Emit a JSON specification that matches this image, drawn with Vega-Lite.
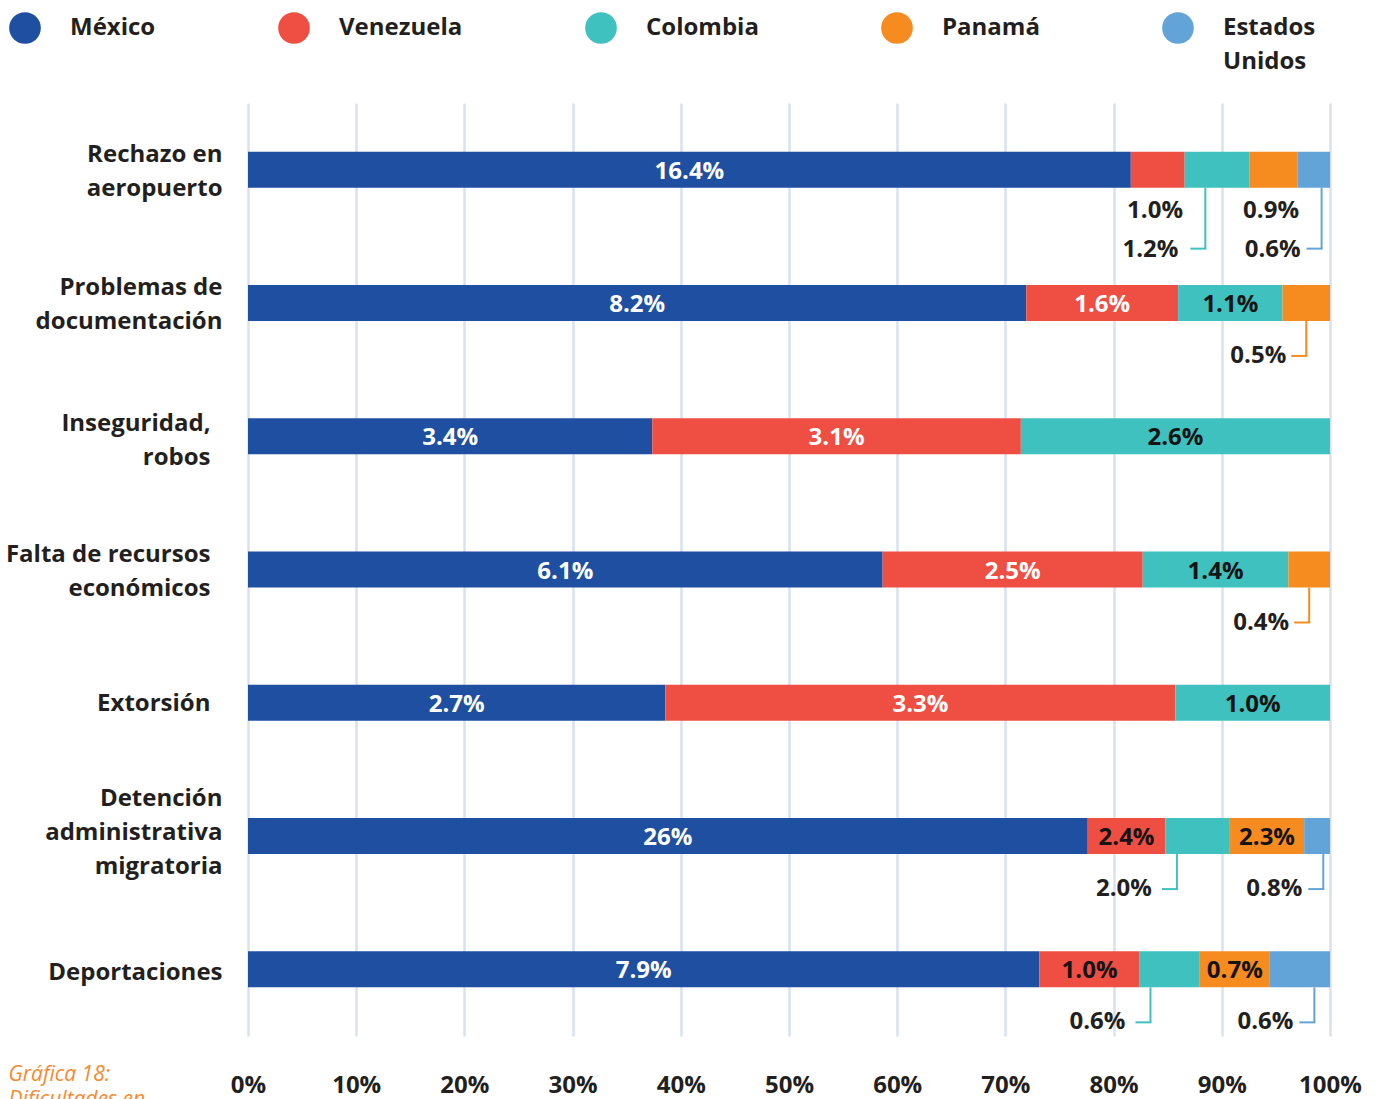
{
  "$schema": "https://vega.github.io/schema/vega-lite/v6.json",
  "width": 1082,
  "height": 933,
  "autosize": {"type": "none"},
  "padding": {"left": 248, "top": 103, "right": 54, "bottom": 63},
  "background": "white",
  "config": {"view": {"stroke": null}, "font": "Open Sans", "style": {"guide-label": {"lineHeight": 34}}},
  "title": {
    "text": ["Gráfica 18:", "Dificultades en"],
    "orient": "bottom",
    "anchor": "start",
    "frame": "bounds",
    "font": "Open Sans",
    "fontStyle": "italic",
    "fontWeight": "normal",
    "fontSize": 21,
    "lineHeight": 25,
    "color": "#f58a32",
    "offset": -33,
    "dx": 3
  },
  "data": {
    "values": [
      {"causa": "Rechazo en|aeropuerto", "pais": "México", "o": 1, "v": 16.4, "t": "16.4%"},
      {"causa": "Rechazo en|aeropuerto", "pais": "Venezuela", "o": 2, "v": 1.0, "t": "1.0%"},
      {"causa": "Rechazo en|aeropuerto", "pais": "Colombia", "o": 3, "v": 1.2, "t": "1.2%"},
      {"causa": "Rechazo en|aeropuerto", "pais": "Panamá", "o": 4, "v": 0.9, "t": "0.9%"},
      {"causa": "Rechazo en|aeropuerto", "pais": "Estados Unidos", "o": 5, "v": 0.6, "t": "0.6%"},
      {"causa": "Problemas de|documentación", "pais": "México", "o": 1, "v": 8.2, "t": "8.2%"},
      {"causa": "Problemas de|documentación", "pais": "Venezuela", "o": 2, "v": 1.6, "t": "1.6%"},
      {"causa": "Problemas de|documentación", "pais": "Colombia", "o": 3, "v": 1.1, "t": "1.1%"},
      {"causa": "Problemas de|documentación", "pais": "Panamá", "o": 4, "v": 0.5, "t": "0.5%"},
      {"causa": "Inseguridad,|robos", "pais": "México", "o": 1, "v": 3.4, "t": "3.4%"},
      {"causa": "Inseguridad,|robos", "pais": "Venezuela", "o": 2, "v": 3.1, "t": "3.1%"},
      {"causa": "Inseguridad,|robos", "pais": "Colombia", "o": 3, "v": 2.6, "t": "2.6%"},
      {"causa": "Falta de recursos|económicos", "pais": "México", "o": 1, "v": 6.1, "t": "6.1%"},
      {"causa": "Falta de recursos|económicos", "pais": "Venezuela", "o": 2, "v": 2.5, "t": "2.5%"},
      {"causa": "Falta de recursos|económicos", "pais": "Colombia", "o": 3, "v": 1.4, "t": "1.4%"},
      {"causa": "Falta de recursos|económicos", "pais": "Panamá", "o": 4, "v": 0.4, "t": "0.4%"},
      {"causa": "Extorsión", "pais": "México", "o": 1, "v": 2.7, "t": "2.7%"},
      {"causa": "Extorsión", "pais": "Venezuela", "o": 2, "v": 3.3, "t": "3.3%"},
      {"causa": "Extorsión", "pais": "Colombia", "o": 3, "v": 1.0, "t": "1.0%"},
      {"causa": "Detención|administrativa|migratoria", "pais": "México", "o": 1, "v": 26, "t": "26%"},
      {"causa": "Detención|administrativa|migratoria", "pais": "Venezuela", "o": 2, "v": 2.4, "t": "2.4%"},
      {"causa": "Detención|administrativa|migratoria", "pais": "Colombia", "o": 3, "v": 2.0, "t": "2.0%"},
      {"causa": "Detención|administrativa|migratoria", "pais": "Panamá", "o": 4, "v": 2.3, "t": "2.3%"},
      {"causa": "Detención|administrativa|migratoria", "pais": "Estados Unidos", "o": 5, "v": 0.8, "t": "0.8%"},
      {"causa": "Deportaciones", "pais": "México", "o": 1, "v": 7.9, "t": "7.9%"},
      {"causa": "Deportaciones", "pais": "Venezuela", "o": 2, "v": 1.0, "t": "1.0%"},
      {"causa": "Deportaciones", "pais": "Colombia", "o": 3, "v": 0.6, "t": "0.6%"},
      {"causa": "Deportaciones", "pais": "Panamá", "o": 4, "v": 0.7, "t": "0.7%"},
      {"causa": "Deportaciones", "pais": "Estados Unidos", "o": 5, "v": 0.6, "t": "0.6%"}
    ]
  },
  "encoding": {
    "y": {
      "field": "causa",
      "type": "nominal",
      "sort": null,
      "scale": {"paddingInner": 0, "paddingOuter": 0},
      "axis": {
        "title": null,
        "domain": false,
        "ticks": false,
        "labelPadding": {"condition": {"test": "indexof(datum.value, 'Inseguridad') == 0 || indexof(datum.value, 'Falta') == 0 || indexof(datum.value, 'Extorsi') == 0", "value": 38}, "value": 26},
        "labelOffset": {"condition": [{"test": "indexof(datum.value, 'Detenci') == 0", "value": -37}, {"test": "indexof(datum.value, 'Inseguridad') == 0", "value": -12}, {"test": "indexof(datum.value, '|') > 0", "value": -15}, {"test": "indexof(datum.value, 'Deportaciones') == 0", "value": 4}], "value": 1},
        "labelFont": "Open Sans",
        "labelFontWeight": "bold",
        "labelFontSize": 24,
        "labelColor": "#231f20",
        "labelLineHeight": 34,
        "labelLimit": 400,
        "labelExpr": "split(datum.label, '|')"
      }
    },
    "order": {"field": "o", "type": "quantitative"}
  },
  "layer": [
    {
      "mark": {"type": "bar", "size": 36},
      "encoding": {
        "x": {
          "field": "v",
          "type": "quantitative",
          "stack": "normalize",
          "scale": {"domain": [0, 1]},
          "axis": {
            "title": null,
            "domain": false,
            "ticks": false,
            "values": [0, 0.1, 0.2, 0.3, 0.4, 0.5, 0.6, 0.7, 0.8, 0.9, 1],
            "format": ".0%",
            "grid": true,
            "gridColor": "#d9e1f1",
            "gridWidth": 2.5,
            "labelPadding": 37,
            "labelFont": "Open Sans",
            "labelFontSize": 24,
            "labelFontWeight": "bold",
            "labelColor": "#231f20",
            "labelFlush": false
          }
        },
        "color": {
          "field": "pais",
          "type": "nominal",
          "scale": {
            "domain": ["México", "Venezuela", "Colombia", "Panamá", "Estados Unidos"],
            "range": ["#1f4fa0", "#ef4e43", "#3fc1c0", "#f68b1f", "#62a4d8"]
          },
          "legend": {
            "title": null,
            "orient": "none",
            "legendX": -239,
            "legendY": -91,
            "direction": "horizontal",
            "columns": 5,
            "padding": 0,
            "symbolType": "circle",
            "symbolSize": 1000,
            "symbolStrokeWidth": 0,
            "symbolOpacity": 1,
            "labelFont": "Open Sans",
            "labelFontSize": 24,
            "labelFontWeight": "bold",
            "labelColor": "#231f20",
            "labelOffset": 29,
            "labelLimit": 300,
            "columnPadding": 122,
            "labelExpr": "datum.label == 'Estados Unidos' ? ['Estados', 'Unidos'] : [datum.label, ' ']"
          }
        }
      }
    },
    {
      "mark": {"type": "text", "font": "Open Sans", "fontSize": 24, "fontWeight": "bold", "baseline": "middle", "dy": 2},
      "encoding": {
        "x": {"field": "v", "type": "quantitative", "stack": "normalize", "bandPosition": 0.5},
        "detail": {"field": "pais"},
        "text": {"condition": {"test": "datum.v_end - datum.v_start > 0.062", "field": "t"}, "value": ""},
        "color": {
          "condition": {"test": "datum.pais == 'México' || (datum.pais == 'Venezuela' && datum.v_end - datum.v_start > 0.1)", "value": "white"},
          "value": "#141414"
        }
      }
    },
    {
      "mark": {"type": "text", "font": "Open Sans", "fontSize": 24, "fontWeight": "bold", "baseline": "middle", "align": "center", "dy": 41, "color": "#231f20"},
      "encoding": {
        "x": {"field": "v", "type": "quantitative", "stack": "normalize", "bandPosition": 0.45},
        "detail": {"field": "pais"},
        "text": {"condition": {"test": "datum.v_end - datum.v_start <= 0.062 && datum.causa == 'Rechazo en|aeropuerto' && (datum.pais == 'Venezuela' || datum.pais == 'Panamá')", "field": "t"}, "value": ""}
      }
    },
    {
      "mark": {"type": "text", "font": "Open Sans", "fontSize": 24, "fontWeight": "bold", "baseline": "middle", "align": "right", "dx": -20, "dy": 53, "color": "#231f20"},
      "encoding": {
        "x": {"field": "v", "type": "quantitative", "stack": "normalize", "bandPosition": 0.5},
        "detail": {"field": "pais"},
        "text": {"condition": {"test": "datum.v_end - datum.v_start <= 0.062 && datum.causa != 'Rechazo en|aeropuerto' && datum.pais == 'Panamá'", "field": "t"}, "value": ""}
      }
    },
    {
      "mark": {"type": "tick", "thickness": 2, "size": 35, "yOffset": 35.5},
      "encoding": {
        "x": {"field": "v", "type": "quantitative", "stack": "normalize", "bandPosition": 0.5},
        "color": {"field": "pais", "type": "nominal"},
        "opacity": {"condition": {"test": "datum.v_end - datum.v_start <= 0.062 && datum.causa != 'Rechazo en|aeropuerto' && datum.pais == 'Panamá'", "value": 1}, "value": 0}
      }
    },
    {
      "mark": {"type": "tick", "thickness": 16, "size": 2, "yOffset": 53, "xOffset": -7},
      "encoding": {
        "x": {"field": "v", "type": "quantitative", "stack": "normalize", "bandPosition": 0.5},
        "color": {"field": "pais", "type": "nominal"},
        "opacity": {"condition": {"test": "datum.v_end - datum.v_start <= 0.062 && datum.causa != 'Rechazo en|aeropuerto' && datum.pais == 'Panamá'", "value": 1}, "value": 0}
      }
    },
    {
      "mark": {"type": "text", "font": "Open Sans", "fontSize": 24, "fontWeight": "bold", "baseline": "middle", "align": "right", "dx": -25, "dy": 53, "color": "#231f20"},
      "encoding": {
        "x": {"field": "v", "type": "quantitative", "stack": "normalize", "bandPosition": 0.18},
        "detail": {"field": "pais"},
        "text": {"condition": {"test": "datum.v_end - datum.v_start <= 0.062 && datum.causa != 'Rechazo en|aeropuerto' && datum.pais == 'Colombia'", "field": "t"}, "value": ""}
      }
    },
    {
      "mark": {"type": "tick", "thickness": 2, "size": 35, "yOffset": 35.5},
      "encoding": {
        "x": {"field": "v", "type": "quantitative", "stack": "normalize", "bandPosition": 0.18},
        "color": {"field": "pais", "type": "nominal"},
        "opacity": {"condition": {"test": "datum.v_end - datum.v_start <= 0.062 && datum.causa != 'Rechazo en|aeropuerto' && datum.pais == 'Colombia'", "value": 1}, "value": 0}
      }
    },
    {
      "mark": {"type": "tick", "thickness": 16, "size": 2, "yOffset": 53, "xOffset": -7},
      "encoding": {
        "x": {"field": "v", "type": "quantitative", "stack": "normalize", "bandPosition": 0.18},
        "color": {"field": "pais", "type": "nominal"},
        "opacity": {"condition": {"test": "datum.v_end - datum.v_start <= 0.062 && datum.causa != 'Rechazo en|aeropuerto' && datum.pais == 'Colombia'", "value": 1}, "value": 0}
      }
    },
    {
      "mark": {"type": "text", "font": "Open Sans", "fontSize": 24, "fontWeight": "bold", "baseline": "middle", "align": "right", "dx": -21, "dy": 53, "color": "#231f20"},
      "encoding": {
        "x": {"field": "v", "type": "quantitative", "stack": "normalize", "bandPosition": 0.74},
        "detail": {"field": "pais"},
        "text": {"condition": {"test": "datum.v_end - datum.v_start <= 0.062 && datum.causa != 'Rechazo en|aeropuerto' && datum.pais == 'Estados Unidos'", "field": "t"}, "value": ""}
      }
    },
    {
      "mark": {"type": "tick", "thickness": 2, "size": 35, "yOffset": 35.5},
      "encoding": {
        "x": {"field": "v", "type": "quantitative", "stack": "normalize", "bandPosition": 0.74},
        "color": {"field": "pais", "type": "nominal"},
        "opacity": {"condition": {"test": "datum.v_end - datum.v_start <= 0.062 && datum.causa != 'Rechazo en|aeropuerto' && datum.pais == 'Estados Unidos'", "value": 1}, "value": 0}
      }
    },
    {
      "mark": {"type": "tick", "thickness": 16, "size": 2, "yOffset": 53, "xOffset": -7},
      "encoding": {
        "x": {"field": "v", "type": "quantitative", "stack": "normalize", "bandPosition": 0.74},
        "color": {"field": "pais", "type": "nominal"},
        "opacity": {"condition": {"test": "datum.v_end - datum.v_start <= 0.062 && datum.causa != 'Rechazo en|aeropuerto' && datum.pais == 'Estados Unidos'", "value": 1}, "value": 0}
      }
    },
    {
      "mark": {"type": "text", "font": "Open Sans", "fontSize": 24, "fontWeight": "bold", "baseline": "middle", "align": "right", "dx": -27, "dy": 80, "color": "#231f20"},
      "encoding": {
        "x": {"field": "v", "type": "quantitative", "stack": "normalize", "bandPosition": 0.32},
        "detail": {"field": "pais"},
        "text": {"condition": {"test": "datum.v_end - datum.v_start <= 0.062 && datum.causa == 'Rechazo en|aeropuerto' && datum.pais == 'Colombia'", "field": "t"}, "value": ""}
      }
    },
    {
      "mark": {"type": "tick", "thickness": 2, "size": 61, "yOffset": 48.5},
      "encoding": {
        "x": {"field": "v", "type": "quantitative", "stack": "normalize", "bandPosition": 0.32},
        "color": {"field": "pais", "type": "nominal"},
        "opacity": {"condition": {"test": "datum.v_end - datum.v_start <= 0.062 && datum.causa == 'Rechazo en|aeropuerto' && datum.pais == 'Colombia'", "value": 1}, "value": 0}
      }
    },
    {
      "mark": {"type": "tick", "thickness": 16, "size": 2, "yOffset": 79, "xOffset": -7},
      "encoding": {
        "x": {"field": "v", "type": "quantitative", "stack": "normalize", "bandPosition": 0.32},
        "color": {"field": "pais", "type": "nominal"},
        "opacity": {"condition": {"test": "datum.v_end - datum.v_start <= 0.062 && datum.causa == 'Rechazo en|aeropuerto' && datum.pais == 'Colombia'", "value": 1}, "value": 0}
      }
    },
    {
      "mark": {"type": "text", "font": "Open Sans", "fontSize": 24, "fontWeight": "bold", "baseline": "middle", "align": "right", "dx": -21, "dy": 80, "color": "#231f20"},
      "encoding": {
        "x": {"field": "v", "type": "quantitative", "stack": "normalize", "bandPosition": 0.74},
        "detail": {"field": "pais"},
        "text": {"condition": {"test": "datum.v_end - datum.v_start <= 0.062 && datum.causa == 'Rechazo en|aeropuerto' && datum.pais == 'Estados Unidos'", "field": "t"}, "value": ""}
      }
    },
    {
      "mark": {"type": "tick", "thickness": 2, "size": 61, "yOffset": 48.5},
      "encoding": {
        "x": {"field": "v", "type": "quantitative", "stack": "normalize", "bandPosition": 0.74},
        "color": {"field": "pais", "type": "nominal"},
        "opacity": {"condition": {"test": "datum.v_end - datum.v_start <= 0.062 && datum.causa == 'Rechazo en|aeropuerto' && datum.pais == 'Estados Unidos'", "value": 1}, "value": 0}
      }
    },
    {
      "mark": {"type": "tick", "thickness": 16, "size": 2, "yOffset": 79, "xOffset": -7},
      "encoding": {
        "x": {"field": "v", "type": "quantitative", "stack": "normalize", "bandPosition": 0.74},
        "color": {"field": "pais", "type": "nominal"},
        "opacity": {"condition": {"test": "datum.v_end - datum.v_start <= 0.062 && datum.causa == 'Rechazo en|aeropuerto' && datum.pais == 'Estados Unidos'", "value": 1}, "value": 0}
      }
    }
  ]
}
